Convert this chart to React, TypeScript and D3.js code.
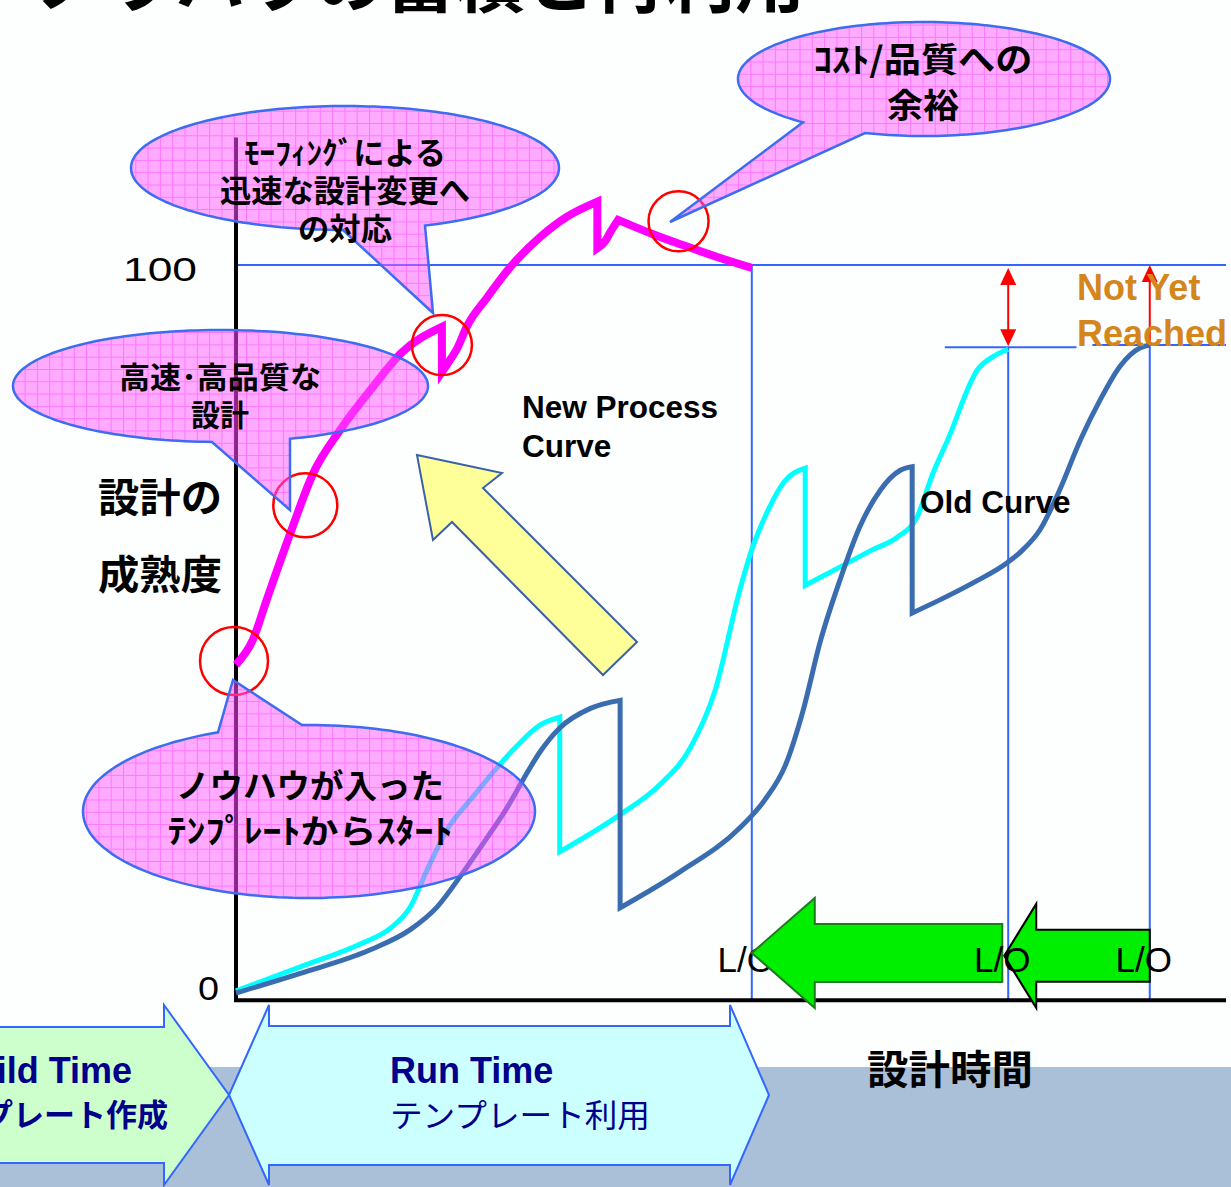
import * as d3 from "d3";

// ---- data (time 0-100, maturity 0-100) ----
const cyanSegments: [number, number][][] = [
  [[0, 0.3], [6.5, 3.6], [12.5, 6.7], [15.6, 8.9], [17.6, 11.8], [19.3, 16.9], [21.3, 22.4], [23.9, 26.9], [26.4, 31.0], [28.0, 33.4], [30.7, 36.8], [32.7, 37.9]],
  [[32.7, 19.4], [38.8, 24.5], [42.8, 28.6], [45.9, 33.7], [48.4, 41.6], [50.9, 55.4], [52.1, 60.9], [53.6, 65.9], [55.3, 70.1], [57.5, 72.1]],
  [[57.5, 56.0], [61.0, 58.5], [64.3, 60.9], [66.8, 62.6], [68.8, 65.4], [70.4, 71.4], [71.9, 76.0], [74.9, 85.6], [76.7, 87.6], [78.0, 88.4]],
];

const steelSegments: [number, number][][] = [
  [[0, 0], [6.5, 2.7], [13.5, 5.9], [17.6, 8.7], [20.3, 11.8], [22.9, 16.5], [25.4, 21.4], [27.4, 25.5], [29.0, 29.3], [30.7, 33.1], [32.7, 36.4], [35.8, 39.1], [38.8, 40.2]],
  [[38.8, 11.7], [44.8, 16.6], [50.9, 22.7], [53.4, 26.5], [55.5, 31.3], [57.3, 38.9], [59.0, 48.2], [61.0, 56.7], [63.0, 64.0], [65.1, 69.1], [67.1, 71.8], [68.3, 72.3]],
  [[68.3, 52.2], [71.1, 54.0], [74.4, 56.3], [77.9, 59.1], [79.5, 60.9], [81.2, 63.6], [83.2, 69.1], [85.3, 76.0], [87.3, 81.5], [89.3, 86.1], [91.3, 88.6], [92.3, 89.0]],
];

const magentaSegments: [number, number][][] = [
  [[0, 45.1], [1.7, 48.5], [3.1, 54.0], [5.5, 63.2], [7.8, 71.4], [10.5, 77.3], [13.8, 83.2], [16.6, 87.8], [20.8, 91.5]],
  [[20.8, 85.3], [21.4, 86.5], [22.4, 88.7], [23.3, 91.5], [25.4, 95.6], [27.7, 99.7], [30.7, 103.8], [33.4, 106.6], [36.5, 108.7]],
  [[36.5, 102.3], [37.3, 103.3], [37.8, 104.5], [38.6, 106.2]],
  [[38.6, 106.2], [41.8, 104.4], [45.2, 102.7], [48.6, 101.1], [52.1, 99.6]],
];

const checkpoints: [number, number][] = [[-0.2, 45.6], [7.0, 67.0], [20.8, 89.0], [44.7, 106.0]];

const yTicks = [0, 100];
const yTickLabels = ["0", "100"];

const loTimes = [52.1, 78.0, 92.3];
const loStartLevels = [100, 88.7, 89.0];
const loLabels = ["L/O", "L/O", "L/O"];

const targetLevel = 100;
const reachedLines = [
  { from: 71.6, to: 84.9, level: 88.7 },
  { from: 86.5, to: 100, level: 89.0 },
];

// green shift arrows: tip time, tail time, level
const shiftArrows = [
  { tip: 52.1, tail: 77.4, level: 5.5 },
  { tip: 77.6, tail: 92.3, level: 5.1 },
];

const callouts = [
  { lines: ["ﾓｰﾌｨﾝｸﾞによる", "迅速な設計変更へ", "の対応"] },
  { lines: ["ｺｽﾄ/品質への", "余裕"] },
  { lines: ["高速･高品質な", "設計"] },
  { lines: ["ノウハウが入った", "ﾃﾝﾌﾟﾚｰﾄからｽﾀｰﾄ"] },
];

// ---- layout ----
const W = 1231;
const H = 1187;
const JP = "'Noto Sans CJK JP', sans-serif";
const SANS = "'Liberation Sans', Arial, sans-serif";
const BLUE = "#3366ff";

const circleRadii = [34, 32, 30, 30];
const shiftArrowSize = [
  { headLen: 63, headHalf: 55, bodyHalf: 29, stroke: "#1f7a1f" },
  { headLen: 32, headHalf: 52, bodyHalf: 26, stroke: "#000" },
];

const calloutGeom = [
  { cx: 345, cy: 168, rx: 214, ry: 62, baseL: 343, baseR: 425, side: "bottom", tip: [433, 313], tx: 345, ty: [164, 202, 240], tw: [202, 250, 94], fs: 31 },
  { cx: 924, cy: 79, rx: 186, ry: 57, baseL: 803, baseR: 865, side: "bottom", tip: [670, 222], tx: 923, ty: [72, 118], tw: [219, 72], fs: 34 },
  { cx: 220.5, cy: 386, rx: 207.5, ry: 56, baseL: 212, baseR: 290, side: "bottom", tip: [290, 510], tx: 220, ty: [388, 426], tw: [202, 58], fs: 30 },
  { cx: 309, cy: 811.5, rx: 226, ry: 86.5, baseL: 218, baseR: 302, side: "top", tip: [233, 680], tx: 310, ty: [798, 843], tw: [268, 285], fs: 33 },
];

const yellowArrow: [number, number][] = [[417, 455], [502, 473], [483, 488], [637, 642], [603, 675], [452, 522], [433, 540]];

function calloutPath(c: any) {
  const tOf = (px: number) => {
    const a = Math.acos(Math.max(-1, Math.min(1, (px - c.cx) / c.rx)));
    return c.side === "bottom" ? a : -a;
  };
  const t1 = tOf(c.baseL);
  const t2 = tOf(c.baseR);
  const tA = Math.max(t1, t2);
  const tB = Math.min(t1, t2) + 2 * Math.PI;
  const pts: [number, number][] = [[c.tip[0], c.tip[1]]];
  const n = 180;
  for (let i = 0; i <= n; i++) {
    const t = tA + ((tB - tA) * i) / n;
    pts.push([c.cx + c.rx * Math.cos(t), c.cy + c.ry * Math.sin(t)]);
  }
  return "M" + pts.map((p) => p[0].toFixed(1) + "," + p[1].toFixed(1)).join("L") + "Z";
}

export default function App() {
  const x = d3.scaleLinear().domain([0, 100]).range([236, 1226]);
  const y = d3.scaleLinear().domain([0, 100]).range([993, 265]);

  const line = d3
    .line<[number, number]>()
    .x((d) => x(d[0]))
    .y((d) => y(d[1]))
    .curve(d3.curveMonotoneX);

  const joined = (segs: [number, number][][]) =>
    segs
      .map((s, i) => {
        const p = line(s) || "";
        return i === 0 ? p : "L" + p.slice(1);
      })
      .join("");

  const leftArrow = (a: any, s: any) => {
    const xt = x(a.tip);
    const xe = x(a.tail);
    const yc = y(a.level);
    const xh = xt + s.headLen;
    return [
      [xt, yc],
      [xh, yc - s.headHalf],
      [xh, yc - s.bodyHalf],
      [xe, yc - s.bodyHalf],
      [xe, yc + s.bodyHalf],
      [xh, yc + s.bodyHalf],
      [xh, yc + s.headHalf],
    ]
      .map((p) => p.join(","))
      .join(" ");
  };

  const head = (xc: number, yt: number, dir: number) =>
    `${xc},${yt} ${xc - 8},${yt + dir * 17} ${xc + 8},${yt + dir * 17}`;

  return (
    <svg
      width={W}
      height={H}
      viewBox={`0 0 ${W} ${H}`}
      style={{ position: "absolute", left: 0, top: 0, background: "#fdfefe" }}
    >
      <defs>
        <pattern id="pinkGrid" width={12.3} height={12.3} patternUnits="userSpaceOnUse">
          <rect width={12.3} height={12.3} fill="#ff55ff" fillOpacity={0.5} />
          <path d="M0 0.5H12.3M0.5 0V12.3" stroke="#ff00ff" strokeOpacity={0.3} strokeWidth={1} />
        </pattern>
      </defs>

      {/* bottom band */}
      <rect x={0} y={1067} width={W} height={H - 1067} fill="#aac0d8" />

      {/* title (cut off at top) */}
      <text x={35} y={7} fontFamily={JP} fontWeight={700} fontSize={70} fill="#000">
        ノウハウの蓄積と再利用
      </text>

      {/* reference lines */}
      <line x1={x(0)} x2={x(100)} y1={y(targetLevel)} y2={y(targetLevel)} stroke={BLUE} strokeWidth={2} />
      {reachedLines.map((r, i) => (
        <line key={i} x1={x(r.from)} x2={x(r.to)} y1={y(r.level)} y2={y(r.level)} stroke={BLUE} strokeWidth={2} />
      ))}
      {loTimes.map((t, i) => (
        <line key={i} x1={x(t)} x2={x(t)} y1={y(loStartLevels[i])} y2={y(-1)} stroke={BLUE} strokeWidth={2} />
      ))}

      {/* axes */}
      <line x1={x(0)} x2={x(0)} y1={y(117.5)} y2={y(-1.2)} stroke="#000" strokeWidth={4} />
      <line x1={x(-0.2)} x2={x(100)} y1={y(-1)} y2={y(-1)} stroke="#000" strokeWidth={4} />
      {yTicks.map((v, i) => (
        <text
          key={v}
          x={v === 0 ? 219 : 197}
          y={y(v) + (v === 0 ? 7 : 16)}
          textAnchor="end"
          fontFamily={SANS}
          fontSize={33}
          textLength={v === 0 ? 21 : 74}
          lengthAdjust="spacingAndGlyphs"
        >
          {yTickLabels[i]}
        </text>
      ))}

      {/* curves */}
      <path d={joined(cyanSegments)} fill="none" stroke="#00ffff" strokeWidth={5} />
      <path d={joined(steelSegments)} fill="none" stroke="#3a6cb0" strokeWidth={5} />
      <path d={joined(magentaSegments)} fill="none" stroke="#ff00ff" strokeWidth={8} />

      {checkpoints.map((p, i) => (
        <circle key={i} cx={x(p[0])} cy={y(p[1])} r={circleRadii[i]} fill="none" stroke="#ff0000" strokeWidth={2.5} />
      ))}

      {/* yellow arrow */}
      <polygon points={yellowArrow.map((p) => p.join(",")).join(" ")} fill="#ffff99" stroke="#3a62a8" strokeWidth={2} />

      {/* L/O labels and shift arrows */}
      <text x={x(loTimes[0]) - 6} y={972} textAnchor="middle" fontFamily={SANS} fontSize={35}>
        {loLabels[0]}
      </text>
      {shiftArrows.map((a, i) => (
        <polygon key={i} points={leftArrow(a, shiftArrowSize[i])} fill="#00ee00" stroke={shiftArrowSize[i].stroke} strokeWidth={2} />
      ))}
      {loTimes.slice(1).map((t, i) => (
        <text key={i} x={x(t) - 6} y={972} textAnchor="middle" fontFamily={SANS} fontSize={35}>
          {loLabels[i + 1]}
        </text>
      ))}

      {/* red gap arrows */}
      <line x1={x(loTimes[1])} x2={x(loTimes[1])} y1={y(100) + 10} y2={y(88.7) - 10} stroke="#ff0000" strokeWidth={2} />
      <polygon points={head(x(loTimes[1]), y(100) + 3, 1)} fill="#ff0000" />
      <polygon points={head(x(loTimes[1]), y(88.7) - 1, -1)} fill="#ff0000" />
      <line x1={x(loTimes[2])} x2={x(loTimes[2])} y1={y(100) + 10} y2={y(89.0)} stroke="#ff0000" strokeWidth={2} />
      <polygon points={head(x(loTimes[2]), y(100), 1)} fill="#ff0000" />

      {/* callouts */}
      {calloutGeom.map((c, i) => (
        <path key={i} d={calloutPath(c)} fill="url(#pinkGrid)" stroke="#3d6cf0" strokeWidth={2.5} strokeLinejoin="miter" />
      ))}
      {calloutGeom.map((c, i) =>
        callouts[i].lines.map((t, j) => (
          <text
            key={`${i}-${j}`}
            x={c.tx}
            y={c.ty[j]}
            textAnchor="middle"
            fontFamily={JP}
            fontWeight={700}
            fontSize={c.fs}
            textLength={c.tw[j]}
            lengthAdjust="spacingAndGlyphs"
          >
            {t}
          </text>
        ))
      )}

      {/* labels */}
      <text x={522} y={418} fontFamily={SANS} fontWeight={700} fontSize={31.5}>New Process</text>
      <text x={522} y={457} fontFamily={SANS} fontWeight={700} fontSize={31.5}>Curve</text>
      <text x={920} y={513} fontFamily={SANS} fontWeight={700} fontSize={31.5}>Old Curve</text>
      <text x={1077} y={300} fontFamily={SANS} fontWeight={700} fontSize={36} fill="#d4861c">Not Yet</text>
      <text x={1077} y={346} fontFamily={SANS} fontWeight={700} fontSize={36} fill="#d4861c">Reached</text>

      <text x={98} y={512} fontFamily={JP} fontWeight={700} fontSize={40} textLength={124} lengthAdjust="spacingAndGlyphs">設計の</text>
      <text x={98} y={589} fontFamily={JP} fontWeight={700} fontSize={40} textLength={124} lengthAdjust="spacingAndGlyphs">成熟度</text>
      <text x={867} y={1084} fontFamily={JP} fontWeight={700} fontSize={40} textLength={166} lengthAdjust="spacingAndGlyphs">設計時間</text>

      {/* phase arrows */}
      <polygon
        points="-10,1027 164,1027 164,1005 229,1095 164,1185 164,1163 -10,1163"
        fill="#ccffcc"
        stroke={BLUE}
        strokeWidth={2}
      />
      <polygon
        points="229,1095 269,1005 269,1026 730,1026 730,1005 769,1095 730,1185 730,1165 269,1165 269,1185"
        fill="#ccffff"
        stroke={BLUE}
        strokeWidth={2}
      />
      <text x={132} y={1083} textAnchor="end" fontFamily={SANS} fontWeight={700} fontSize={36} fill="#00008b">Build Time</text>
      <text x={168} y={1126} textAnchor="end" fontFamily={JP} fontWeight={700} fontSize={31} fill="#00008b">テンプレート作成</text>
      <text x={390} y={1083} fontFamily={SANS} fontWeight={700} fontSize={36} fill="#00008b">Run Time</text>
      <text x={390} y={1127} fontFamily={JP} fontSize={32} fill="#00008b" textLength={260} lengthAdjust="spacingAndGlyphs">テンプレート利用</text>
    </svg>
  );
}
